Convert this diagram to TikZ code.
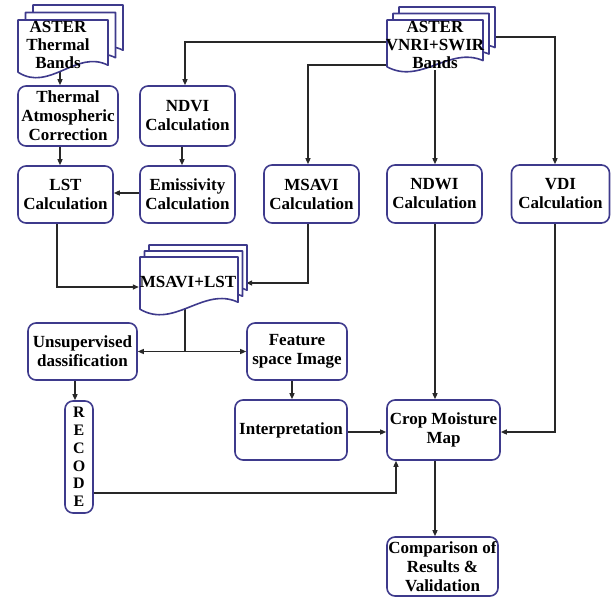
\documentclass[tikz,border=0pt]{standalone}
\usepackage{fontspec}
\setmainfont{Liberation Serif}
\usetikzlibrary{arrows.meta,backgrounds}
\definecolor{boxc}{RGB}{62,58,140}
\definecolor{linec}{RGB}{40,40,40}
\newcommand{\docstack}[6]{%
  \foreach \k in {2,1,0}{%
    \pgfmathsetmacro{\dX}{#1+\k*#5}%
    \pgfmathsetmacro{\dY}{#2-\k*#6}%
    \filldraw[docline] (\dX,\dY) -- ({\dX+#3},\dY) -- ({\dX+#3},{\dY+0.78*#4})
      .. controls ({\dX+0.65*#3},{\dY+0.5*#4}) and ({\dX+0.35*#3},{\dY+1.25*#4}) .. (\dX,{\dY+0.9*#4}) -- cycle;
  }}
\tikzset{
  txt/.style={font=\bfseries\fontsize{17}{19}\selectfont, align=center},
  box/.style={txt, draw=boxc, line width=1.6pt, rounded corners=8pt, fill=white, inner sep=0pt},
  doctext/.style={txt, font=\bfseries\fontsize{17}{18}\selectfont, inner sep=0pt, minimum height=50pt},
  docline/.style={draw=boxc, line width=1.6pt, fill=white, line join=round},
  conn/.style={draw=linec, line width=1.3pt},
  arr/.style={conn, -{Triangle[length=6pt,width=5pt]}}
}
\begin{document}
\begin{tikzpicture}[x=1pt,y=-1pt]
\useasboundingbox (0,0) rectangle (611,598);
% document stacks
\docstack{18}{20}{90}{58}{7.5}{7.5}
\docstack{387}{20}{96}{52}{6}{6.5}
\docstack{140}{257}{98}{58}{4.5}{6}
% document texts
\node[doctext, minimum width=80pt] (tb) at (58,45) {ASTER\\Thermal\\Bands};
\node[doctext, minimum width=96pt] (vn) at (435,45) {ASTER\\VNRI+SWIR\\Bands};
\node[doctext, minimum width=98pt, minimum height=50pt] (ml) at (188,282) {MSAVI+LST};
% boxes
\node[box, minimum width=100pt, minimum height=60pt] (ta) at (68,116) {Thermal\\Atmospheric\\Correction};
\node[box, minimum width=95pt, minimum height=60pt] (ndvi) at (187.5,116) {NDVI\\Calculation};
\node[box, minimum width=95pt, minimum height=57pt] (lst) at (65.5,194.5) {LST\\Calculation};
\node[box, minimum width=95pt, minimum height=57pt] (emis) at (187.5,194.5) {Emissivity\\Calculation};
\node[box, minimum width=95pt, minimum height=58pt] (msavi) at (311.5,194) {MSAVI\\Calculation};
\node[box, minimum width=95pt, minimum height=58pt] (ndwi) at (434.5,194) {NDWI\\Calculation};
\node[box, minimum width=98pt, minimum height=58pt] (vdi) at (560.5,194) {VDI\\Calculation};
\node[box, minimum width=109pt, minimum height=57pt] (uns) at (82.5,351.5) {Unsupervised\\dassification};
\node[box, minimum width=100pt, minimum height=57pt] (feat) at (297,351.5) {Feature\\space Image};
\node[box, minimum width=28pt, minimum height=112pt, font=\bfseries\fontsize{16}{17.8}\selectfont] (rec) at (79,457) {R\\E\\C\\O\\D\\E};
\node[box, minimum width=112pt, minimum height=60pt] (interp) at (291,430) {Interpretation};
\node[box, minimum width=113pt, minimum height=60pt] (crop) at (443.5,430) {Crop Moisture\\Map};
\node[box, minimum width=111pt, minimum height=59pt] (comp) at (442.5,566.5) {Comparison of\\Results \&\\Validation};
% connectors
\begin{pgfonlayer}{background}
\draw[arr] ([xshift=2pt]tb.south) -- ([xshift=2pt]tb.south |- ta.north);
\draw[arr] ([xshift=-8pt]ta.south) -- ([xshift=-8pt]ta.south |- lst.north);
\draw[arr] ([xshift=-5.5pt]ndvi.south) -- ([xshift=-5.5pt]ndvi.south |- emis.north);
\draw[arr] ([yshift=1.5pt]emis.west) -- ([yshift=1.5pt]emis.west -| lst.east);
\draw[arr] ([yshift=3pt]vn.west) -| ([xshift=-2.5pt]ndvi.north);
\draw[arr] ([yshift=-20pt]vn.west) -| ([xshift=-3.5pt]msavi.north);
\draw[arr] (vn.south) -- (vn.south |- ndwi.north);
\draw[arr] ([yshift=8pt]vn.east) -| ([xshift=-5.5pt]vdi.north);
\draw[arr] ([xshift=-8.5pt]lst.south) |- ([yshift=-5pt]ml.west);
\draw[arr] ([xshift=-3.5pt]msavi.south) |- ([xshift=9pt,yshift=-1pt]ml.east);
\draw[conn] ([xshift=-3pt]ml.south) -- ([xshift=-3pt]ml.south |- uns.east) coordinate (j);
\draw[arr] (j) -- (uns.east);
\draw[arr] (j) -- (feat.west);
\draw[arr] ([xshift=-7.5pt]uns.south) -- ([xshift=-7.5pt]uns.south |- rec.north);
\draw[arr] ([xshift=-5pt]feat.south) -- ([xshift=-5pt]feat.south |- interp.north);
\draw[arr] ([yshift=-2pt]interp.east) -- ([yshift=-2pt]interp.east -| crop.west);
\draw[arr] ([xshift=0.5pt]ndwi.south) -- ([xshift=0.5pt]ndwi.south |- crop.north);
\draw[arr] ([xshift=-5.5pt]vdi.south) |- ([yshift=-2pt]crop.east);
\draw[arr] ([yshift=-36pt]rec.east) -| ([xshift=-47.5pt]crop.south);
\draw[arr] ([xshift=-8.5pt]crop.south) -- ([xshift=-8.5pt]crop.south |- comp.north);
\end{pgfonlayer}
\end{tikzpicture}
\end{document}
